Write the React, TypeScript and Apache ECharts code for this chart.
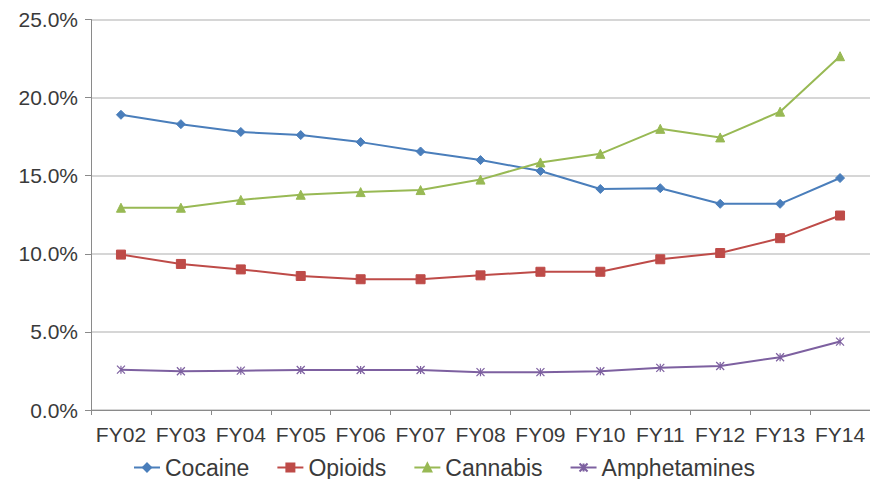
import React, { useEffect, useRef } from "react";
import * as echarts from "echarts";

const categories = ["FY02", "FY03", "FY04", "FY05", "FY06", "FY07", "FY08", "FY09", "FY10", "FY11", "FY12", "FY13", "FY14"];
const cocaine = [18.9, 18.3, 17.8, 17.6, 17.15, 16.55, 16.0, 15.3, 14.15, 14.2, 13.2, 13.2, 14.85];
const opioids = [9.95, 9.35, 9.0, 8.58, 8.37, 8.37, 8.62, 8.85, 8.85, 9.65, 10.05, 11.0, 12.45];
const cannabis = [12.95, 12.95, 13.45, 13.78, 13.95, 14.08, 14.75, 15.85, 16.4, 18.0, 17.45, 19.1, 22.65];
const amphetamines = [2.58, 2.48, 2.52, 2.56, 2.56, 2.56, 2.42, 2.42, 2.48, 2.7, 2.82, 3.38, 4.38];
const yTicks = [0, 5, 10, 15, 20, 25];

const FONT = "'Liberation Sans', Arial, sans-serif";
const TEXT = "#3a3a3a";
const xMark = "path://M0,0L10,10M10,0L0,10M5,0L5,10";

export default function App() {
  const ref = useRef<HTMLDivElement>(null);
  useEffect(() => {
    document.body.style.margin = "0";
    const chart = echarts.init(ref.current!, null, { renderer: "svg" });
    const mk = (name: string, data: number[], color: string, symbol: string, size: number, extra: any = {}) => ({
      name,
      type: "line",
      data,
      symbol,
      symbolSize: size,
      showSymbol: true,
      lineStyle: { color, width: 2 },
      itemStyle: { color, borderColor: color, borderWidth: 1, ...extra },
      emphasis: { disabled: true },
    });
    chart.setOption({
      animation: false,
      backgroundColor: "#ffffff",
      grid: { left: 91, top: 19.5, height: 390.5, width: 784, containLabel: false },
      legend: {
        left: 133,
        top: 456,
        padding: 0,
        itemWidth: 26,
        itemHeight: 10,
        itemGap: 27,
        textStyle: { fontFamily: FONT, fontSize: 23, color: TEXT, lineHeight: 23 },
        data: ["Cocaine", "Opioids", "Cannabis", "Amphetamines"],
      },
      xAxis: {
        type: "category",
        data: categories,
        boundaryGap: true,
        axisLine: { lineStyle: { color: "#8a8a8a", width: 1 } },
        axisTick: { show: true, length: 5, interval: 0, lineStyle: { color: "#8a8a8a" } },
        axisLabel: { fontFamily: FONT, fontSize: 21, color: TEXT, margin: 14, interval: 0 },
        splitLine: { show: false },
      },
      yAxis: {
        type: "value",
        min: 0,
        max: 25,
        interval: 5,
        axisLine: { show: true, lineStyle: { color: "#8a8a8a", width: 1 } },
        axisTick: { show: true, length: 6, lineStyle: { color: "#8a8a8a" } },
        axisLabel: {
          fontFamily: FONT,
          fontSize: 21,
          color: TEXT,
          margin: 13,
          formatter: (v: number) => (yTicks.includes(v) ? v.toFixed(1) + "%" : ""),
        },
        splitLine: { show: true, lineStyle: { color: "#c8c8c8", width: 1.5 } },
      },
      series: [
        mk("Cocaine", cocaine, "#4a7ebb", "diamond", 9),
        mk("Opioids", opioids, "#be4b48", "rect", 9),
        mk("Cannabis", cannabis, "#98b954", "triangle", 9),
        mk("Amphetamines", amphetamines, "#7d60a0", xMark, 8, { borderWidth: 1.2 }),
      ],
    });
    return () => chart.dispose();
  }, []);
  return <div ref={ref} style={{ width: 870, height: 479 }} />;
}
